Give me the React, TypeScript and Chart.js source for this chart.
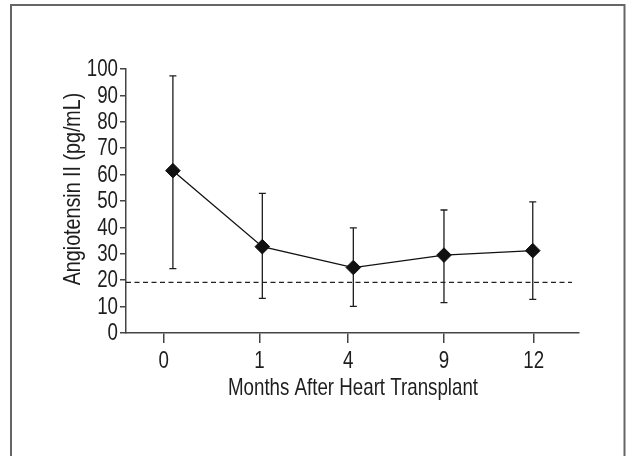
import React, { useEffect, useRef } from "react";
import { Chart, registerables } from "chart.js";

Chart.register(...registerables);

// ---- data ----
const categories = ["0", "1", "4", "9", "12"];
const tickPositions = [0, 1.036, 1.994, 3.03, 4];
const pointPositions = [0.099, 1.066, 2.05, 3.03, 3.99];
const means = [61.5, 32.7, 24.8, 29.5, 31.2];
const upper = [97.4, 52.9, 39.8, 46.6, 49.7];
const lower = [24.4, 13.1, 10.1, 11.5, 12.7];
const referenceValue = 19.2;
const referenceRange = [-0.408, 4.414];
const xRange = [-0.408, 4.49];
const yRange = [0, 100];
const yStep = 10;
const xTitle = "Months After Heart Transplant";
const yTitle = "Angiotensin II (pg/mL)";

const FONT = "'Liberation Sans', Arial, sans-serif";
const FONT_SIZE = 24;
const SQUEEZE = 0.78;
const INK = "#1e1e1e";

function condensedText(
  ctx: CanvasRenderingContext2D,
  text: string,
  x: number,
  y: number,
  align: CanvasTextAlign,
  baseline: CanvasTextBaseline,
  squeeze: number,
  rotate = 0
) {
  ctx.save();
  ctx.translate(x, y);
  if (rotate) ctx.rotate(rotate);
  ctx.scale(squeeze, 1);
  ctx.textAlign = align;
  ctx.textBaseline = baseline;
  ctx.fillText(text, 0, 0);
  ctx.restore();
}

export default function App() {
  const ref = useRef<HTMLCanvasElement | null>(null);

  useEffect(() => {
    document.body.style.margin = "0";
    const canvas = ref.current!;

    const framePlugin = {
      id: "frame",
      beforeDraw(chart: any) {
        const ctx = chart.ctx;
        ctx.save();
        ctx.fillStyle = "#fff";
        ctx.fillRect(0, 0, chart.width, chart.height);
        ctx.strokeStyle = "#666";
        ctx.lineWidth = 2;
        ctx.strokeRect(11, 5, 613.5, 520);
        ctx.restore();
      },
    };

    const errorPlugin = {
      id: "errorBars",
      beforeDatasetsDraw(chart: any) {
        const ctx = chart.ctx;
        const xs = chart.scales.x;
        const ys = chart.scales.y;
        ctx.save();
        ctx.strokeStyle = INK;
        ctx.lineWidth = 1.3;
        for (let i = 0; i < means.length; i++) {
          const x = xs.getPixelForValue(pointPositions[i]);
          const yt = ys.getPixelForValue(upper[i]);
          const yb = ys.getPixelForValue(lower[i]);
          ctx.beginPath();
          ctx.moveTo(x, yt);
          ctx.lineTo(x, yb);
          ctx.moveTo(x - 3.5, yt);
          ctx.lineTo(x + 3.5, yt);
          ctx.moveTo(x - 3.5, yb);
          ctx.lineTo(x + 3.5, yb);
          ctx.stroke();
        }
        ctx.restore();
      },
    };

    const textPlugin = {
      id: "condensedText",
      afterDraw(chart: any) {
        const ctx = chart.ctx as CanvasRenderingContext2D;
        const area = chart.chartArea;
        const xs = chart.scales.x;
        const ys = chart.scales.y;
        ctx.save();
        ctx.fillStyle = INK;
        ctx.font = `${FONT_SIZE}px ${FONT}`;
        // y tick labels
        ys.ticks.forEach((t: any, i: number) => {
          const label = t.label != null ? String(t.label) : String(t.value);
          condensedText(ctx, label, area.left - 8, ys.getPixelForTick(i) + 0.5, "right", "middle", SQUEEZE);
        });
        // x tick labels
        xs.ticks.forEach((t: any, i: number) => {
          const label = t.label != null ? String(t.label) : categories[i];
          condensedText(ctx, label, xs.getPixelForTick(i), area.bottom + 35, "center", "alphabetic", SQUEEZE);
        });
        // titles
        condensedText(ctx, xTitle, (area.left + area.right) / 2 + 0.5, area.bottom + 62, "center", "alphabetic", SQUEEZE);
        condensedText(ctx, yTitle, area.left - 46, (area.top + area.bottom) / 2 - 12, "center", "alphabetic", 0.82, -Math.PI / 2);
        ctx.restore();
      },
    };

    const chart = new Chart(canvas, {
      type: "scatter",
      data: {
        datasets: [
          {
            data: pointPositions.map((x, i) => ({ x, y: means[i] })),
            showLine: true,
            borderColor: "#111",
            borderWidth: 1.3,
            backgroundColor: "#111",
            pointStyle: "rectRot",
            pointRadius: 7.3,
            pointBorderWidth: 1,
            pointBorderColor: "#111",
          },
          {
            data: referenceRange.map((x) => ({ x, y: referenceValue })),
            showLine: true,
            borderColor: "#222",
            borderWidth: 1.2,
            borderDash: [5, 3.5],
            pointRadius: 0,
          },
        ],
      },
      options: {
        responsive: false,
        animation: false,
        layout: { padding: { left: 0, top: 69, right: 47, bottom: 83 } },
        plugins: { legend: { display: false }, tooltip: { enabled: false } },
        scales: {
          x: {
            type: "linear",
            min: xRange[0],
            max: xRange[1],
            afterBuildTicks(scale: any) {
              scale.ticks = tickPositions.map((v) => ({ value: v }));
            },
            afterFit(scale: any) {
              scale.height = 40;
              scale.paddingLeft = 0;
              scale.paddingRight = 0;
            },
            ticks: {
              display: false,
              autoSkip: false,
              maxRotation: 0,
              callback: (_v: any, i: number) => categories[i],
            },
            grid: {
              drawOnChartArea: false,
              drawTicks: true,
              tickLength: 10,
              color: "#444",
              lineWidth: 1.5,
            },
            border: { display: true, color: "#444", width: 1.5 },
          },
          y: {
            type: "linear",
            min: yRange[0],
            max: yRange[1],
            afterFit(scale: any) {
              scale.width = 126;
              scale.paddingTop = 0;
              scale.paddingBottom = 0;
            },
            ticks: {
              display: false,
              autoSkip: false,
              stepSize: yStep,
            },
            grid: {
              drawOnChartArea: false,
              drawTicks: true,
              tickLength: 6,
              color: "#444",
              lineWidth: 1.5,
            },
            border: { display: true, color: "#444", width: 1.5 },
          },
        },
      },
      plugins: [framePlugin, errorPlugin, textPlugin],
    });

    return () => chart.destroy();
  }, []);

  return (
    <div style={{ width: 626, height: 456 }}>
      <canvas ref={ref} width={626} height={456} />
    </div>
  );
}
